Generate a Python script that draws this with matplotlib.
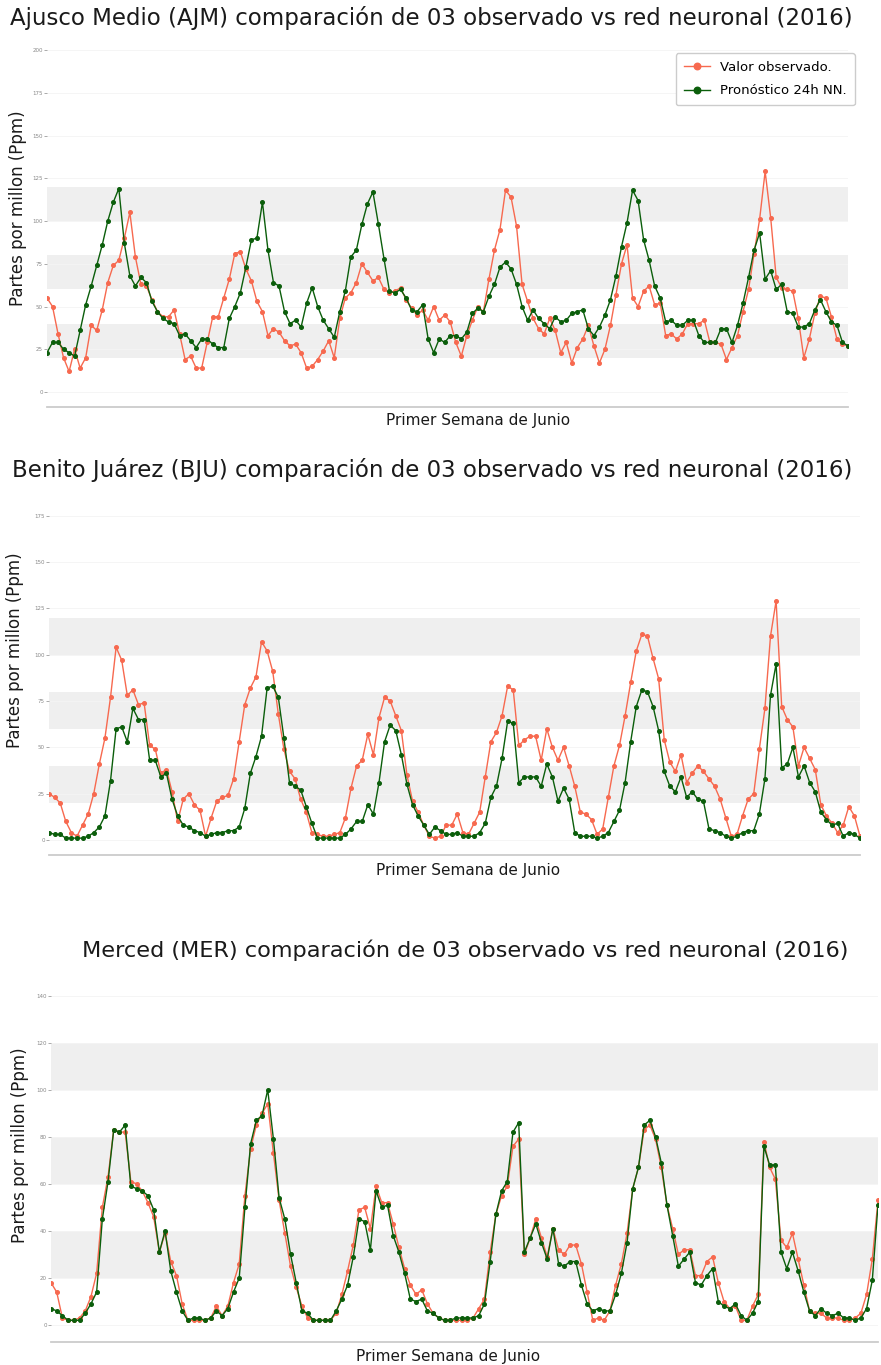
import numpy as np
import matplotlib
matplotlib.use("Agg")
import matplotlib.pyplot as plt

# ------------------ DATOS ------------------

ajm_obs = [55, 50, 34, 20, 12, 25, 14, 20, 39, 36, 48, 64, 74, 77, 90, 105,
           79, 63, 62, 54, 47, 44, 44, 48, 34, 19, 21, 14, 14, 29, 44, 44, 55, 66, 81, 82,
           72, 65, 53, 47, 33, 37, 35, 30, 27, 28,
           23, 14, 15, 19, 24, 30, 20, 43, 55, 58, 64, 75, 70, 65, 67, 60, 58, 59, 61, 54,
           49, 45, 48, 42,
           50, 42, 45, 41, 29, 21, 33, 42, 50, 47, 66, 83, 95, 118, 114, 97, 63, 53, 43, 37,
           34, 43, 36, 23, 29, 17, 26, 31, 39, 27, 17, 25, 39, 57, 75, 86, 55, 50, 59, 62,
           51, 52, 33, 34, 31, 34, 40, 40, 40, 42, 29, 29, 28, 19, 26, 33, 47, 60, 81, 101,
           129, 102, 67, 61, 60, 59, 43, 20, 31, 46, 56, 55, 44, 31, 28, 27]
ajm_nn = [23, 29, 29, 25, 23, 21, 36, 51, 62, 74, 86, 100, 111, 119, 87, 68, 62, 67, 64, 53,
          47, 43, 41, 40, 33, 34, 30, 26, 31, 31, 28, 26, 26,
          43, 50, 58, 73, 89, 90, 111, 83, 64, 62, 47, 40, 42, 38, 52, 61, 50, 42, 37, 32,
          47, 59, 79, 83, 98, 110, 117, 98, 78, 59, 58, 60, 55, 48, 47, 51, 31,
          23, 31, 29, 33, 33, 31, 35, 46, 49, 47, 56, 63, 73, 76, 72, 63, 50, 42, 48, 43,
          40, 37, 44, 41, 42, 46, 47, 48, 37, 33, 38, 45, 54, 68, 85, 99, 118, 112, 89, 77,
          62, 55, 41, 42, 39, 39, 42, 42, 33, 29, 29, 29, 37, 37, 29, 39, 52, 67, 83, 93,
          66, 71, 60, 63, 47, 46, 38, 38, 40, 48, 54, 47, 41, 39, 29, 27]

bju_obs = [25, 23, 20, 10, 4, 2, 8, 14, 25, 41, 55, 77, 104, 97, 78, 81, 73, 74, 51, 49,
           36, 38, 26, 10, 22, 25, 19, 16, 2, 12, 21, 23, 24, 33, 53, 73, 82, 88, 107, 102,
           91, 68, 49, 37, 33, 22, 15, 4, 3, 2, 2, 3, 4, 12, 28, 40, 43, 57, 46, 66,
           77, 75, 67, 59, 35, 21, 15, 8, 2, 1, 2,
           8, 8, 14, 4, 3, 9, 15, 34, 53, 58, 67, 83, 81, 51, 54, 56, 56, 43, 60, 50,
           43, 50, 40, 29, 15, 14, 11, 3, 6, 23, 40, 51, 67, 85, 102, 111, 110, 98, 87, 54,
           42, 37, 46, 31, 36, 40, 37, 33, 29, 22, 12, 2, 3, 13, 22, 25, 49, 71, 110, 129,
           72, 65, 61, 40, 50, 44, 38, 19, 13, 9, 4, 8, 18, 13, 2]
bju_nn = [4, 3, 3, 1, 1, 1, 1, 2, 4, 7, 13, 32, 60, 61, 53, 71, 65, 65, 43, 43,
          34, 36, 22, 13, 8, 7, 5, 4, 2, 3, 4, 4, 5, 5, 7, 17, 36, 45, 56, 82,
          83, 77, 55, 31, 29, 27, 18, 9, 1, 1, 1, 1, 1, 3, 6, 10, 10, 19, 14, 31,
          53, 62, 59, 46, 30, 19, 13, 8, 3, 7, 5,
          3, 3, 4, 2, 2, 2, 4, 9, 23, 29, 44, 64, 63, 31, 34, 34, 34, 29, 41, 34,
          21, 28, 22, 4, 2, 2, 2, 1, 2, 4, 10, 16, 31, 53, 72, 81, 80, 72, 59, 37,
          29, 26, 34, 23, 26, 22, 21, 6, 5, 4, 2, 1, 2, 4, 5, 5, 14, 33, 78, 95,
          39, 41, 50, 34, 40, 31, 26, 15, 11, 8, 9, 2, 4, 3, 1]

mer_obs = [18, 14, 3, 2, 2, 3, 6, 12, 22, 50, 63, 83, 82, 82, 61, 60, 57, 52, 46, 31,
           39, 27, 21, 9, 2, 2, 2, 2, 3, 8, 4, 8, 18, 26, 55, 75, 85, 90, 94, 73,
           53, 39, 25, 16, 8, 3, 2, 2, 2, 2, 5, 13, 23, 34, 49, 50, 41, 59, 52, 52,
           43, 33, 24, 17, 13, 15, 9, 5, 3, 2, 2,
           2, 2, 2, 3, 7, 11, 31, 47, 55, 59, 76, 79, 30, 37, 45, 37, 29, 41, 32, 30,
           34, 34, 26, 14, 2, 3, 2, 6, 17, 26, 39, 58, 67, 83, 85, 79, 67, 51, 41, 30,
           32, 32, 21, 21, 27, 29, 18, 10, 7, 8, 2, 2, 8, 13, 78, 67, 62, 36, 33, 39,
           28, 17, 6, 5, 5, 3, 3, 3, 2, 2, 3, 5, 13, 28, 53]
mer_nn = [7, 6, 4, 2, 2, 2, 5, 9, 14, 45, 61, 83, 82, 85, 59, 58, 57, 55, 49, 31,
          40, 23, 14, 6, 2, 3, 3, 2, 3, 6, 4, 7, 14, 20, 50, 77, 87, 89, 100, 79,
          54, 45, 30, 18, 6, 5, 2, 2, 2, 2, 6, 11, 17, 29, 45, 44, 32, 57, 50, 51,
          38, 31, 22, 11, 10, 11, 6, 5, 3, 2, 2,
          3, 3, 3, 3, 4, 9, 27, 47, 57, 61, 82, 86, 31, 37, 43, 35, 28, 41, 26, 25,
          27, 27, 17, 9, 6, 7, 6, 6, 13, 22, 35, 58, 67, 85, 87, 80, 69, 51, 38, 25,
          28, 31, 18, 17, 21, 24, 10, 8, 7, 9, 4, 2, 5, 10, 76, 68, 68, 31, 24, 31,
          23, 14, 6, 4, 7, 5, 4, 5, 3, 3, 2, 3, 7, 19, 51]

bandas = [(20, 40), (60, 80), (100, 120)]

titulos = ["Ajusco Medio (AJM) comparación de 03 observado vs red neuronal (2016)",
           "Benito Juárez (BJU) comparación de 03 observado vs red neuronal (2016)",
           "Merced (MER) comparación de 03 observado vs red neuronal (2016)"]

COL_OBS = '#f7694f'
COL_NN = '#0b5e0b'

# ------------------ FIGURA ------------------

W, H = 881, 1365
fig = plt.figure(figsize=(W / 100, H / 100), dpi=100)


def ejes_px(left, right, top, bottom):
    return fig.add_axes([left / W, 1 - bottom / H, (right - left) / W, (bottom - top) / H])


def panel(ax, obs, nn, ylim, ymax_tick, paso):
    for lo, hi in bandas:
        ax.axhspan(lo, hi, color='#efefef', lw=0, zorder=0)
    x = np.arange(len(obs))
    ax.plot(x, obs, color=COL_OBS, marker='o', ms=2.6, lw=1, zorder=3, label='Valor observado.')
    ax.plot(x, nn, color=COL_NN, marker='o', ms=2.6, lw=1, zorder=4, label='Pronóstico 24h NN.')
    ax.set_xlim(0, len(obs) - 1)
    ax.set_ylim(*ylim)
    ax.set_yticks(np.arange(0, ymax_tick + 1, paso))
    ax.set_xticks([])
    ax.tick_params(axis='y', labelsize=4, colors='#888888', length=2, width=0.5, pad=1)
    for s in ('top', 'right', 'left'):
        ax.spines[s].set_visible(False)
    ax.spines['bottom'].set_color('#cccccc')
    ax.spines['bottom'].set_linewidth(1.3)
    ax.grid(axis='y', color='#f4f4f4', lw=0.6)
    ax.set_axisbelow(True)


# Panel 1 - AJM
ax1 = ejes_px(47, 848, 41.5, 407.4)
panel(ax1, ajm_obs, ajm_nn, (-9, 205), 200, 25)
ax1.legend(loc='upper right', bbox_to_anchor=(855 / W, 1 - 53 / H),
           bbox_transform=fig.transFigure, borderaxespad=0, fontsize=9.5,
           frameon=True, edgecolor='#cccccc', framealpha=1, handlelength=2,
           labelspacing=0.8, markerscale=1.8, borderpad=0.6)

# Panel 2 - BJU
ax2 = ejes_px(49, 860, 506.4, 854.8)
panel(ax2, bju_obs, bju_nn, (-8, 180), 175, 25)

# Panel 3 - MER
ax3 = ejes_px(51, 878, 983.9, 1341.5)
panel(ax3, mer_obs, mer_nn, (-7, 145), 140, 20)

# Textos
tit_pos = [(431, 18, 16.5), (432, 470, 16.5), (465, 950, 16.1)]
for t, (xp, yp, fs) in zip(titulos, tit_pos):
    fig.text(xp / W, 1 - yp / H, t, ha='center', va='center', fontsize=fs, color='#1a1a1a')

ylab_pos = [(18, 208), (15, 650), (20, 1145)]
for xp, yp in ylab_pos:
    fig.text(xp / W, 1 - yp / H, "Partes por millon (Ppm)", rotation=90,
             ha='center', va='center', fontsize=12, color='#1a1a1a')

xlab_pos = [(478, 421), (468, 870), (448, 1356)]
for xp, yp in xlab_pos:
    fig.text(xp / W, 1 - yp / H, "Primer Semana de Junio", ha='center', va='center',
             fontsize=11, color='#1a1a1a')

fig.savefig("out.png", dpi=100, facecolor='white')
